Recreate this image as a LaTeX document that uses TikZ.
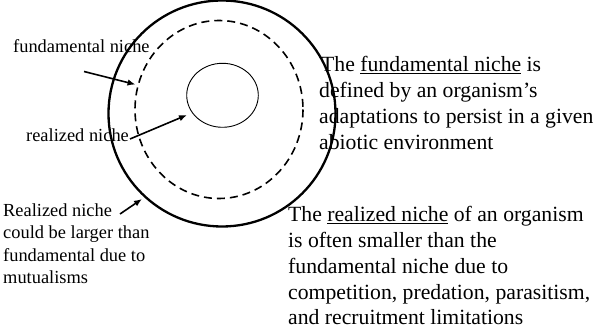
\documentclass[tikz,border=0pt]{standalone}
\usepackage{fontspec}
\setmainfont{Liberation Serif}
\usetikzlibrary{arrows.meta}
\begin{document}
\begin{tikzpicture}[x=1pt,y=-1pt,
  big/.style={font=\fontsize{21.7}{25.8}\selectfont, align=left, inner sep=0pt, anchor=base west},
  small/.style={font=\fontsize{18.4}{22.2}\selectfont, align=left, inner sep=0pt, anchor=base west},
  arr/.style={-{Latex[length=8pt,width=6.5pt]}, line width=1.6pt}]
\useasboundingbox (0,0) rectangle (597,331);
% shapes
\draw[line width=2.3pt] (222,113.5) ellipse [x radius=113.5, y radius=113];
\draw[line width=1.6pt, dash pattern=on 8pt off 5pt] (219,109.5) ellipse [x radius=84, y radius=89];
\draw[line width=0.9pt] (222.5,95.3) ellipse [x radius=35.8, y radius=32];
% labels (base = baseline of the last line)
\node[small] (fn) at (13,53) {fundamental niche};
\node[small] (rn) at (26,141.5) {realized niche};
\node[small] (rl) at (3,283.3) {Realized niche\\could be larger than\\fundamental due to\\mutualisms};
\node[big] (fdef) at (319,149.1) {\kern2pt The \underline{fundamental niche} is\\defined by an organism’s\\adaptations to persist in a given\\abiotic environment};
\node[big] (rdef) at (288,324.9) {The \underline{realized niche} of an organism\\is often smaller than the\\fundamental niche due to\\competition, predation, parasitism,\\and recruitment limitations};
% connector ends
\coordinate (a1s) at (84,71.5);
\coordinate (a1e) at (135.5,84.5);
\coordinate (a2s) at (130,139);
\coordinate (a2e) at (187,115);
\coordinate (a3s) at (120,214);
\coordinate (a3e) at (142,199);
\draw[arr] (a1s) -- (a1e);
\draw[arr] (a2s) -- (a2e);
\draw[arr] (a3s) -- (a3e);
\end{tikzpicture}
\end{document}
